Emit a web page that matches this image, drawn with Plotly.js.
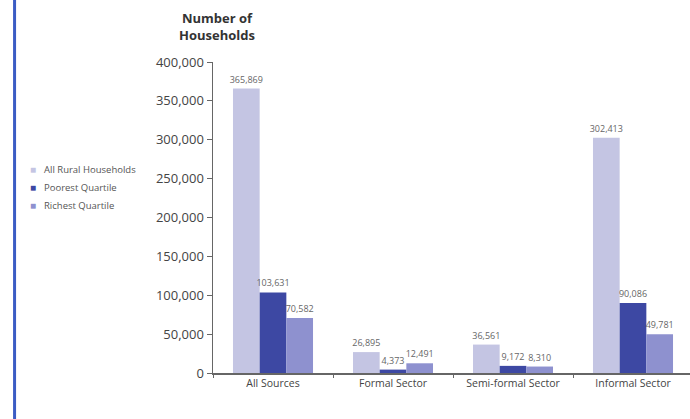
<!DOCTYPE html>
<html>
<head>
<meta charset="utf-8">
<script src="https://cdn.plot.ly/plotly-3.0.1.min.js"></script>
<style>
html,body{margin:0;padding:0;background:#fff;}
#chart{width:690px;height:419px;}
</style>
</head>
<body>
<div id="chart"></div>
<script>
const categories = ["All Sources", "Formal Sector", "Semi-formal Sector", "Informal Sector"];
const seriesNames = ["All Rural Households", "Poorest Quartile", "Richest Quartile"];
const allRural = [365869, 26895, 36561, 302413];
const poorest = [103631, 4373, 9172, 90086];
const richest = [70582, 12491, 8310, 49781];
const yTicks = [0, 50000, 100000, 150000, 200000, 250000, 300000, 350000, 400000];

const colors = ["#c4c5e3", "#3d48a3", "#8e91cf"];
const values = [allRural, poorest, richest];

const traces = values.map((v, i) => ({
  type: "bar",
  name: seriesNames[i],
  x: categories,
  y: v,
  marker: {color: colors[i]},
  text: v.map(n => n.toLocaleString("en-US")),
  textposition: "outside",
  constraintext: "none",
  textfont: {size: 9, color: "#666", family: "Open Sans"},
  cliponaxis: false,
  hoverinfo: "none"
}));

// custom legend (small square swatches) built from the series names/colours
const plotH = 419 - 62 - 46;
const legendAnn = [];
seriesNames.forEach((name, i) => {
  const ypx = 169 + i * 18;
  const yp = (373 - ypx) / plotH;
  legendAnn.push({
    text: "■", xref: "paper", yref: "paper",
    x: (33 - 213) / 477, y: yp, xanchor: "center", yanchor: "middle",
    showarrow: false, font: {size: 10, color: colors[i]}
  });
  legendAnn.push({
    text: name, xref: "paper", yref: "paper",
    x: (42 - 213) / 477, y: yp, xanchor: "left", yanchor: "middle",
    showarrow: false, font: {size: 9.5, color: "#555", family: "Open Sans"}
  });
});

const layout = {
  width: 690, height: 419,
  margin: {l: 213, r: 0, t: 62, b: 46},
  paper_bgcolor: "#fff", plot_bgcolor: "#fff",
  font: {family: "Open Sans", color: "#444"},
  barmode: "group",
  bargap: 0.333,
  bargroupgap: 0,
  showlegend: false,
  xaxis: {
    type: "category",
    range: [-0.5, 3.475],
    showline: true, linecolor: "#666", linewidth: 1.5,
    ticks: "outside", ticklen: 3, tickcolor: "#666",
    tickson: "boundaries",
    tickfont: {size: 10.5, color: "#444"},
    showgrid: false, zeroline: false
  },
  yaxis: {
    range: [0, 400000],
    tickvals: yTicks,
    ticktext: yTicks.map(n => n.toLocaleString("en-US")),
    showline: true, linecolor: "#666", linewidth: 1.5,
    ticks: "outside", ticklen: 5, tickcolor: "#666",
    tickfont: {size: 13, color: "#444"},
    showgrid: false, zeroline: false
  },
  annotations: [{
    text: "<b>Number of<br>Households</b>",
    xref: "paper", yref: "paper",
    x: 0.008, y: 1.05, xanchor: "center", yanchor: "bottom",
    showarrow: false,
    font: {size: 13, color: "#333", family: "Open Sans"}
  }].concat(legendAnn),
  shapes: [{
    type: "line", xref: "paper", yref: "paper",
    x0: -0.416, x1: -0.416, y0: -0.2, y1: 1.25,
    line: {color: "#3b5cc4", width: 3}
  }]
};

Plotly.newPlot("chart", traces, layout, {staticPlot: true, displayModeBar: false});
</script>
</body>
</html>
